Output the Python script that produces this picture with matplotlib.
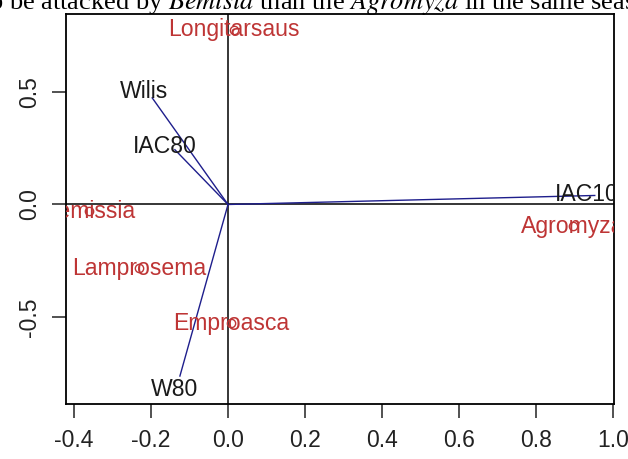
import matplotlib
matplotlib.use("Agg")
import matplotlib.pyplot as plt

# species scores (red points)
species = ["Longitarsaus", "Bemissia", "Lamprosema", "Emproasca", "Agromyza"]
sp_x = [0.016, -0.362, -0.231, 0.008, 0.896]
sp_y = [0.775, -0.031, -0.283, -0.527, -0.097]

# variable arrows (ends) and their labels
variables = ["Wilis", "IAC80", "W80", "IAC100"]
arr_x = [-0.197, -0.138, -0.125, 0.953]
arr_y = [0.473, 0.243, -0.761, 0.040]
lab_x = [-0.218, -0.164, -0.138, 0.948]
lab_y = [0.500, 0.257, -0.819, 0.044]

xticks = [-0.4, -0.2, 0.0, 0.2, 0.4, 0.6, 0.8, 1.0]
yticks = [-0.5, 0.0, 0.5]

red = "#BE3535"
navy = "#1E1E8C"

plt.rcParams["font.family"] = ["Liberation Sans", "DejaVu Sans"]
plt.rcParams["mathtext.fontset"] = "stix"

fig = plt.figure(figsize=(6.28, 4.59), dpi=100)
ax = fig.add_axes([66 / 628, 55 / 459, 548 / 628, 390 / 459])

ax.axhline(0, color="black", lw=1.1, zorder=1)
ax.axvline(0, color="black", lw=1.1, zorder=1)

for x, y in zip(arr_x, arr_y):
    ax.plot([0, x], [0, y], color=navy, lw=1.0, zorder=2)
for name, x, y in zip(variables, lab_x, lab_y):
    ax.text(x, y, name, color="#1a1a1a", fontsize=16.6, ha="center", va="center",
            clip_on=True, zorder=3)

ax.plot(sp_x, sp_y, "o", mfc="none", mec=red, ms=6, mew=1.0, zorder=4)
for name, x, y in zip(species, sp_x, sp_y):
    ax.text(x, y, name, color=red, fontsize=16.6, ha="center", va="center",
            clip_on=True, zorder=3)

ax.set_xlim(-0.421, 1.003)
ax.set_ylim(-0.885, 0.845)
ax.set_xticks(xticks)
ax.set_xticklabels(["%.1f" % v for v in xticks])
ax.set_yticks(yticks)
ax.set_yticklabels(["%.1f" % v for v in yticks], rotation=90, va="center")
ax.tick_params(length=10, width=1.1, labelsize=16.5, pad=8, colors="#222222")
for s in ax.spines.values():
    s.set_linewidth(1.3)

# caption of the page above the figure, cut off at the top
fig.text(-18 / 628, 1 - 9 / 459,
         r"to be attacked by $\mathit{Bemisia}$ than the $\mathit{Agromyza}$ in the same season",
         fontsize=19, family="Liberation Serif", ha="left", va="baseline")

fig.savefig("out.png", dpi=100)
